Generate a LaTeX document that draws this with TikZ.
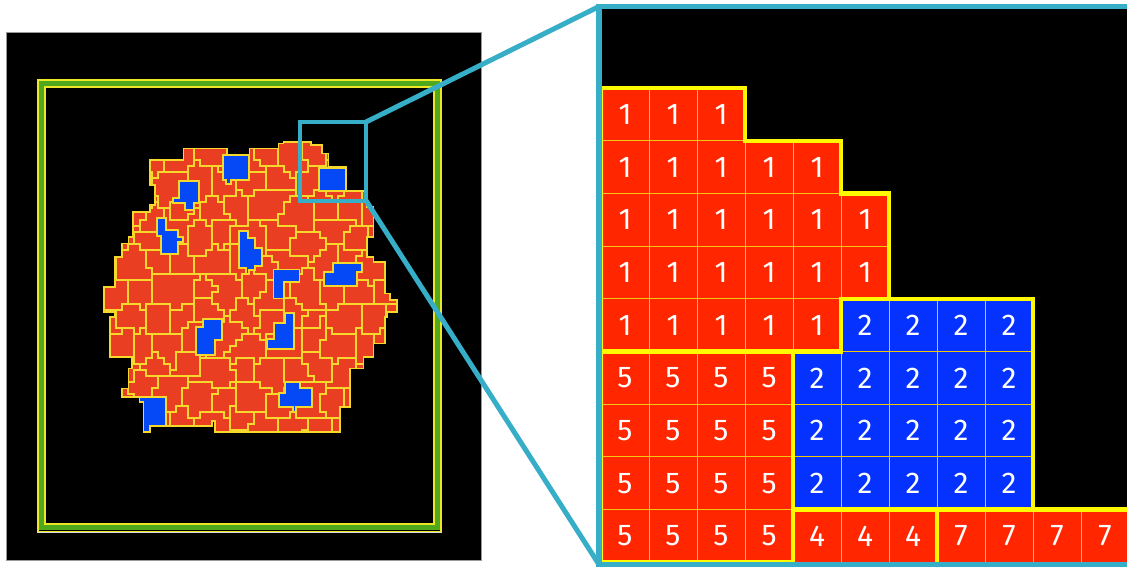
\documentclass[tikz,border=0pt]{standalone}
\usepackage{fontspec}
\newfontfamily\digitfont{Fira Sans}
\definecolor{cyanframe}{RGB}{54,174,200}
\definecolor{mapor}{RGB}{233,62,34}
\definecolor{mapbl}{RGB}{4,72,246}
\definecolor{mapyl}{RGB}{246,216,44}
\definecolor{zred}{RGB}{255,38,0}
\definecolor{zblue}{RGB}{6,50,255}
\definecolor{zyel}{RGB}{255,250,0}
\definecolor{zthin}{RGB}{240,200,20}
\definecolor{frgreen}{RGB}{80,168,28}
\definecolor{fryel}{RGB}{236,232,40}
\newcount\Mcx \newcount\Mcy \newcount\Mdx \newcount\Mdy \newcount\Mdd
\newcount\Mbestd \newcount\Mta \newcount\Moff \newcount\Msx \newcount\Msy
\newcount\Mex \newcount\Mey
\def\Mzero{0}
\def\Msp{27}\def\Mhalf{13}
\def\Mcheck#1#2{%
  \Mdx=\numexpr\Mcx-\csname mSX:#1:#2\endcsname\relax
  \ifnum\Mdx<0 \Mdx=-\Mdx\fi
  \Mdy=\numexpr\Mcy-\csname mSY:#1:#2\endcsname\relax
  \ifnum\Mdy<0 \Mdy=-\Mdy\fi
  \Mex=\numexpr\csname mKX:#1:#2\endcsname*\Mdx\relax
  \Mey=\numexpr\csname mKY:#1:#2\endcsname*\Mdy\relax
  \ifnum\Mex>\Mey \Mdd=\numexpr2*\Mex+\Mdx+\Mdy\relax\else\Mdd=\numexpr2*\Mey+\Mdx+\Mdy\relax\fi
  \ifnum\Mdd<\Mbestd \Mbestd=\Mdd \edef\Mbest{#1:#2}\fi}
\def\Mrow#1{%
  \ifodd#1 \Moff=\Mhalf\relax \else \Moff=0 \fi
  \Mta=\numexpr(\Mcx-90-\Moff)/\Msp\relax
  \edef\Mtmp{\noexpand\Mcheck{\the\numexpr\Mta-1\relax}{#1}\noexpand\Mcheck{\the\Mta}{#1}\noexpand\Mcheck{\the\numexpr\Mta+1\relax}{#1}}\Mtmp}
\def\Mfind{%
  \Mbestd=100000000
  \edef\Mb{\the\numexpr(\Mcy-128)/\Msp\relax}%
  \edef\Mtmpb{\noexpand\Mrow{\the\numexpr\Mb-1\relax}\noexpand\Mrow{\Mb}\noexpand\Mrow{\the\numexpr\Mb+1\relax}}\Mtmpb}
\newcommand\blobpath{(283.3,141.7) -- (310.7,141.7) -- (310.7,145) -- (321.7,145) -- (321.7,153.3)
 -- (328.3,153.3) -- (328.3,166.7) -- (346,166.7) -- (346,191) -- (366.7,191) -- (366.7,206.7)
 -- (373.3,206.7) -- (373.3,236.7) -- (366.7,236.7) -- (366.7,256.7) -- (373.3,256.7) -- (373.3,261.7)
 -- (385,261.7) -- (385,293.3) -- (390,293.3) -- (390,300) -- (396.7,300) -- (396.7,311.7)
 -- (386.7,311.7) -- (386.7,316.7) -- (385,316.7) -- (385,343.3) -- (373.3,343.3) -- (373.3,356.7)
 -- (363.3,356.7) -- (363.3,368.3) -- (350,368.3) -- (350,406.7) -- (340,406.7) -- (340,431.7)
 -- (215,431.7) -- (215,420.7) -- (211.7,420.7) -- (211.7,426) -- (150,426) -- (150,431.7)
 -- (143.3,431.7) -- (143.3,401.7) -- (139.3,401.7) -- (139.3,396.7) -- (121.7,396.7) -- (121.7,388.3)
 -- (128.3,388.3) -- (128.3,368.3) -- (131.7,368.3) -- (131.7,356.7) -- (110,356.7) -- (110,316.7)
 -- (115,316.7) -- (115,311.7) -- (104,311.7) -- (104,286.7) -- (115,286.7) -- (115,256.7)
 -- (121.7,256.7) -- (121.7,243.3) -- (128.3,243.3) -- (128.3,236.7) -- (132.7,236.7) -- (132.7,211.7)
 -- (150,211.7) -- (150,205) -- (155,205) -- (155,185) -- (150,185) -- (150,160) -- (183.3,160)
 -- (183.3,148.3) -- (226.7,148.3) -- (226.7,155) -- (249.3,155) -- (249.3,148.3) -- (278.3,148.3)
 -- (278.3,143.3) -- (283.3,143.3) -- cycle}
\tikzset{
  mapline/.style={draw=mapyl, line width=0.8pt, line cap=rect},
  bluepatch/.style={fill=mapbl, draw=mapyl, line width=0.8pt, line join=miter},
  zcell/.style={draw=zthin, line width=0.5pt, minimum width=24pt, minimum height=26.35pt,
    inner sep=0pt, outer sep=0pt, text=white, font=\digitfont\fontsize{15}{15}\selectfont},
  zborder/.style={draw=zyel, line width=2.2pt, line join=miter},
  cyanline/.style={draw=cyanframe, line width=2.5pt},
  boxline/.style={draw=cyanframe, line width=2pt},
}
\begin{document}
\begin{tikzpicture}[x=0.5pt,y=-0.5pt]
\useasboundingbox (0,0) rectangle (1127,568);
\clip (0,0) rectangle (1127,568);
\fill[white] (0,0) rectangle (1127,568);
% ---------- seeds of the map ----------
\pgfmathsetseed{11}
\foreach \a in {-2,...,15}{\foreach \b in {-2,...,15}{%
  \pgfmathrandominteger{\jx}{-8}{8}\pgfmathrandominteger{\jy}{-8}{8}%
  \pgfmathrandominteger{\kx}{3}{5}\pgfmathrandominteger{\ky}{3}{5}%
  \ifodd\b \def\off{\Mhalf}\else\def\off{0}\fi
  \Msx=\numexpr90+\Msp*\a+\off+\jx\relax
  \Msy=\numexpr128+\Msp*\b+\jy\relax
  \expandafter\xdef\csname mSX:\a:\b\endcsname{\the\Msx}%
  \expandafter\xdef\csname mSY:\a:\b\endcsname{\the\Msy}%
  \expandafter\xdef\csname mKX:\a:\b\endcsname{\kx}%
  \expandafter\xdef\csname mKY:\a:\b\endcsname{\ky}%
}}
% assign cells
\foreach \i in {0,...,54}{\foreach \j in {0,...,54}{%
  \Mcx=\numexpr89+6*\i\relax \Mcy=\numexpr127+6*\j\relax
  \Mfind
  \expandafter\xdef\csname mR:\i:\j\endcsname{\Mbest}%
}}
% ---------- left panel ----------
\fill[black] (6,32) rectangle (481,560);
\draw[black!40, line width=0.5pt] (6,32) rectangle (481,560);
\draw[black!15, line width=0.5pt] (37.25,79.25) rectangle (441.75,532.25);
\draw[fryel, line width=0.75pt] (38,80) rectangle (441,531.5);
\draw[frgreen, line width=2.2pt] (41.5,83.5) rectangle (437.5,527.5);
\draw[fryel, line width=1pt] (44.6,86.6) rectangle (434.4,524.4);
% map
\fill[mapor] \blobpath;
\begin{scope}
\clip \blobpath;
\foreach \i in {0,...,54}{\foreach \j in {0,...,54}{%
  \edef\Mr{\csname mR:\i:\j\endcsname}%
  \edef\Mn{\ifcsname mR:\the\numexpr\i+1\relax:\j\endcsname\csname mR:\the\numexpr\i+1\relax:\j\endcsname\else 0\fi}%
  \ifx\Mr\Mn\else \draw[mapline] ({92+6*\i},{124+6*\j}) -- ++(0,6);\fi
  \edef\Mn{\ifcsname mR:\i:\the\numexpr\j+1\relax\endcsname\csname mR:\i:\the\numexpr\j+1\relax\endcsname\else 0\fi}%
  \ifx\Mr\Mn\else \draw[mapline] ({86+6*\i},{130+6*\j}) -- ++(6,0);\fi
}}
% blue districts
\draw[bluepatch] (223,155) -- (249,155) -- (249,180) -- (231,180) -- (231,184) -- (226,184) -- (226,180) -- (223,180) -- cycle;
\draw[bluepatch] (179,181) -- (199,181) -- (199,203) -- (194,203) -- (194,210) -- (185,210) -- (185,203) -- (173,203) -- (173,198) -- (179,198) -- cycle;
\draw[bluepatch] (319,168) -- (346,168) -- (346,191) -- (319,191) -- cycle;
\draw[bluepatch] (157,218) -- (166,218) -- (166,230) -- (178,230) -- (178,237) -- (183,237) -- (183,242) -- (178,242) -- (178,254) -- (161,254) -- (161,236) -- (157,236) -- cycle;
\draw[bluepatch] (239,231) -- (248,231) -- (248,238) -- (255,238) -- (255,248) -- (262,248) -- (262,266) -- (255,266) -- (255,270) -- (249,270) -- (249,274) -- (246,274) -- (246,268) -- (239,268) -- cycle;
\draw[bluepatch] (273.3,269.3) -- (299.3,269.3) -- (299.3,281.7) -- (284,281.7) -- (284,298.3) -- (273.3,298.3) -- cycle;
\draw[bluepatch] (333,262.7) -- (361.7,262.7) -- (361.7,271.7) -- (356.7,271.7) -- (356.7,286) -- (324,286) -- (324,271.7) -- (333,271.7) -- cycle;
\draw[bluepatch] (203,319) -- (222,319) -- (222,340) -- (215,340) -- (215,355) -- (196,355) -- (196,327) -- (203,327) -- cycle;
\draw[bluepatch] (285,313) -- (294,313) -- (294,349) -- (267,349) -- (267,339) -- (274,339) -- (274,323) -- (285,323) -- cycle;
\draw[bluepatch] (285,382) -- (300,382) -- (300,388) -- (312,388) -- (312,407) -- (296,407) -- (296,412) -- (293,412) -- (293,407) -- (279,407) -- (279,393) -- (285,393) -- cycle;
\draw[bluepatch] (139.3,396.7) -- (166,396.7) -- (166,426) -- (150,426) -- (150,431.7) -- (143.3,431.7) -- (143.3,401.7) -- (139.3,401.7) -- cycle;
\end{scope}
\draw[mapline, line join=miter, line cap=butt] \blobpath;
% ---------- right panel ----------
\begin{scope}
\clip (599,6.5) rectangle (1127,564.5);
\fill[black] (599,6.5) rectangle (1127,564.5);
\foreach \r/\n in {0/2,1/4,2/5,3/5,4/4}{\foreach \c in {0,...,\n}{%
  \node[zcell,fill=zred] (z-\r-\c) at ({625+48*\c},{114.35+52.7*\r}) {1};}}
\foreach \c in {5,...,8}{\node[zcell,fill=zblue] (z-4-\c) at ({625+48*\c},{114.35+52.7*4}) {2};}
\foreach \r in {5,6,7}{\foreach \c in {4,...,8}{%
  \node[zcell,fill=zblue] (z-\r-\c) at ({625+48*\c},{114.35+52.7*\r}) {2};}}
\foreach \r in {5,...,8}{\foreach \c in {0,...,3}{%
  \node[zcell,fill=zred] (z-\r-\c) at ({625+48*\c},{114.35+52.7*\r}) {5};}}
\foreach \c in {4,5,6}{\node[zcell,fill=zred] (z-8-\c) at ({625+48*\c},{114.35+52.7*8}) {4};}
\foreach \c in {7,...,10}{\node[zcell,fill=zred] (z-8-\c) at ({625+48*\c},{114.35+52.7*8}) {7};}
% region outlines
\draw[zborder] (601,88) -- (745,88) -- (745,140.7) -- (841,140.7) -- (841,193.4) -- (889,193.4)
  -- (889,298.8) -- (841,298.8) -- (841,351.5) -- (601,351.5) -- cycle;
\draw[zborder] (841,298.8) -- (1033,298.8) -- (1033,509.6) -- (793,509.6) -- (793,351.5) -- (841,351.5) -- cycle;
\draw[zborder] (601,351.5) -- (793,351.5) -- (793,562.3) -- (601,562.3) -- cycle;
\draw[zborder] (793,509.6) -- (937,509.6) -- (937,562.3);
\draw[zborder] (937,509.6) -- (1135,509.6);
\end{scope}
% ---------- zoom frame and connectors ----------
\coordinate (boxTL) at (299.5,122);
\coordinate (boxTR) at (366,122);
\coordinate (boxBR) at (366,200.5);
\coordinate (boxBL) at (299.5,200.5);
\coordinate (panTL) at (599,6.5);
\coordinate (panBL) at (599,564.5);
\coordinate (panTR) at (1135,6.5);
\coordinate (panBR) at (1135,564.5);
\draw[boxline] (boxTL) -- (boxTR) -- (boxBR) -- (boxBL) -- cycle;
\draw[cyanline] (boxTR) -- (panTL);
\draw[cyanline] (boxBR) -- (panBL);
\draw[cyanline, line width=2.75pt] (panTR) -- (panTL) -- (panBL) -- (panBR);
\end{tikzpicture}
\end{document}
